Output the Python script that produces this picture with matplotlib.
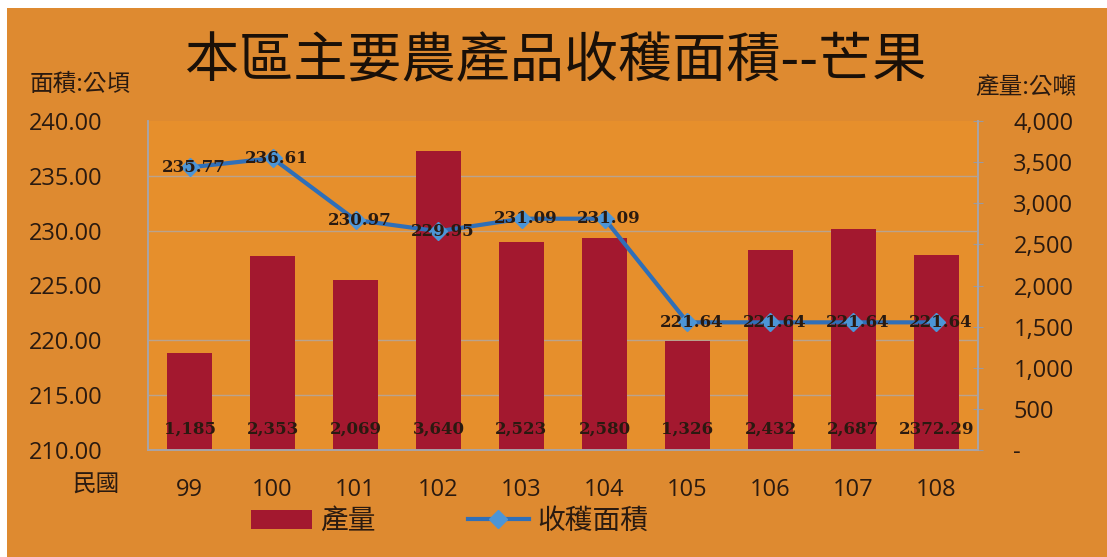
import matplotlib.pyplot as plt
from matplotlib.lines import Line2D
from matplotlib.patches import Patch
import numpy as np

plt.rcParams['font.family'] = ['Noto Sans CJK TC', 'DejaVu Sans']

# data
years = ['99', '100', '101', '102', '103', '104', '105', '106', '107', '108']
output_t = [1185, 2353, 2069, 3640, 2523, 2580, 1326, 2432, 2687, 2372.29]
output_labels = ['1,185', '2,353', '2,069', '3,640', '2,523', '2,580', '1,326', '2,432', '2,687', '2372.29']
area_ha = [235.77, 236.61, 230.97, 229.95, 231.09, 231.09, 221.64, 221.64, 221.64, 221.64]
left_ticks = [210, 215, 220, 225, 230, 235, 240]
right_ticks = [0, 500, 1000, 1500, 2000, 2500, 3000, 3500, 4000]

bg = '#DE8A30'
plot_bg = '#E68F2C'
bar_col = '#A3182F'
line_col = '#2F6FB8'
mark_col = '#4C95D6'
grid_col = '#B9A38E'
txt = '#2A1A10'
num_font = ['Open Sans', 'DejaVu Sans']

fig = plt.figure(figsize=(11.07, 5.57), dpi=100, facecolor='white')
fig.patches.append(plt.Rectangle((7 / 1107, 0), 1, 1 - 8 / 557, transform=fig.transFigure,
                                 facecolor=bg, edgecolor='none', zorder=-10))

# bars (right scale) underneath, line (left scale) on top
axb = fig.add_axes([148 / 1107, 1 - 450 / 557, 830 / 1107, 329 / 557])
axl = axb.twinx()
axb.set_facecolor(plot_bg)
axl.set_zorder(axb.get_zorder() + 1)
axl.patch.set_visible(False)

x = np.arange(len(years))
axb.bar(x, output_t, width=0.55, color=bar_col, zorder=2)
axb.set_ylim(0, 4000)
axb.set_xlim(-0.5, len(years) - 0.5)
for xi, lab in zip(x, output_labels):
    axb.text(xi, 250, lab, ha='center', va='center', fontsize=12, fontweight='bold',
             family='DejaVu Serif', color=txt, zorder=3)

# left-scale gridlines drawn on the lower axes so bars hide them
lo, hi = left_ticks[0], left_ticks[-1]
axb.set_yticks([(v - lo) / (hi - lo) * 4000 for v in left_ticks[1:-1]], minor=True)
axb.grid(which='minor', axis='y', color=grid_col, linewidth=1.0, zorder=0)
axb.tick_params(axis='y', which='minor', length=0)

axb.yaxis.tick_right()
axb.set_yticks(right_ticks)
axb.set_yticklabels(['-'] + [f'{v:,}' for v in right_ticks[1:]], family=num_font)
axb.tick_params(axis='y', which='major', direction='inout', length=7, color='#9A9AA0',
                labelsize=17, pad=22, labelcolor=txt)

axb.set_xticks(x)
axb.set_xticklabels(years, family=num_font)
axb.tick_params(axis='x', length=0, labelsize=17, pad=20, labelcolor=txt)

axl.plot(x, area_ha, color=line_col, linewidth=3, marker='D', markersize=9,
         markerfacecolor=mark_col, markeredgecolor=mark_col, zorder=4)
axl.set_ylim(lo, hi)
for xi, v in zip(x, area_ha):
    axl.text(xi + 0.05, v, f'{v:.2f}', ha='center', va='center', fontsize=12,
             fontweight='bold', family='DejaVu Serif', color=txt, zorder=5)
axl.yaxis.tick_left()
axl.set_yticks(left_ticks)
axl.set_yticklabels([f'{v:.2f}' for v in left_ticks], family=num_font)
axl.tick_params(axis='y', length=0, labelsize=17, pad=33, labelcolor=txt)

for ax in (axb, axl):
    ax.spines['top'].set_visible(False)
    for s in ('left', 'right', 'bottom'):
        ax.spines[s].set_color('#A8A4A8')
        ax.spines[s].set_linewidth(1.2)

fig.text(0.502, 1 - 62 / 557, '本區主要農產品收穫面積--芒果', ha='center', va='center',
         fontsize=39, fontweight='light', color='#1A1008')
fig.text(30 / 1107, 1 - 84 / 557, '面積:公頃', ha='left', va='center', fontsize=17, color=txt)
fig.text(975 / 1107, 1 - 88 / 557, '產量:公噸', ha='left', va='center', fontsize=17, color=txt)
fig.text(120 / 1107, 1 - 485 / 557, '民國', ha='right', va='center', fontsize=17, color=txt)

handles = [Patch(facecolor=bar_col, edgecolor='none'),
           Line2D([], [], color=line_col, linewidth=3, marker='D', markersize=9,
                  markerfacecolor=mark_col, markeredgecolor=mark_col)]
fig.legend(handles, ['產量', '收穫面積'], loc='center', bbox_to_anchor=(0.406, 1 - 521 / 557),
           ncol=2, frameon=False, fontsize=20, handlelength=2.2, handleheight=0.7,
           columnspacing=3.3, handletextpad=0.3, labelcolor=txt)

fig.savefig('out.png', dpi=100, facecolor=fig.get_facecolor())
